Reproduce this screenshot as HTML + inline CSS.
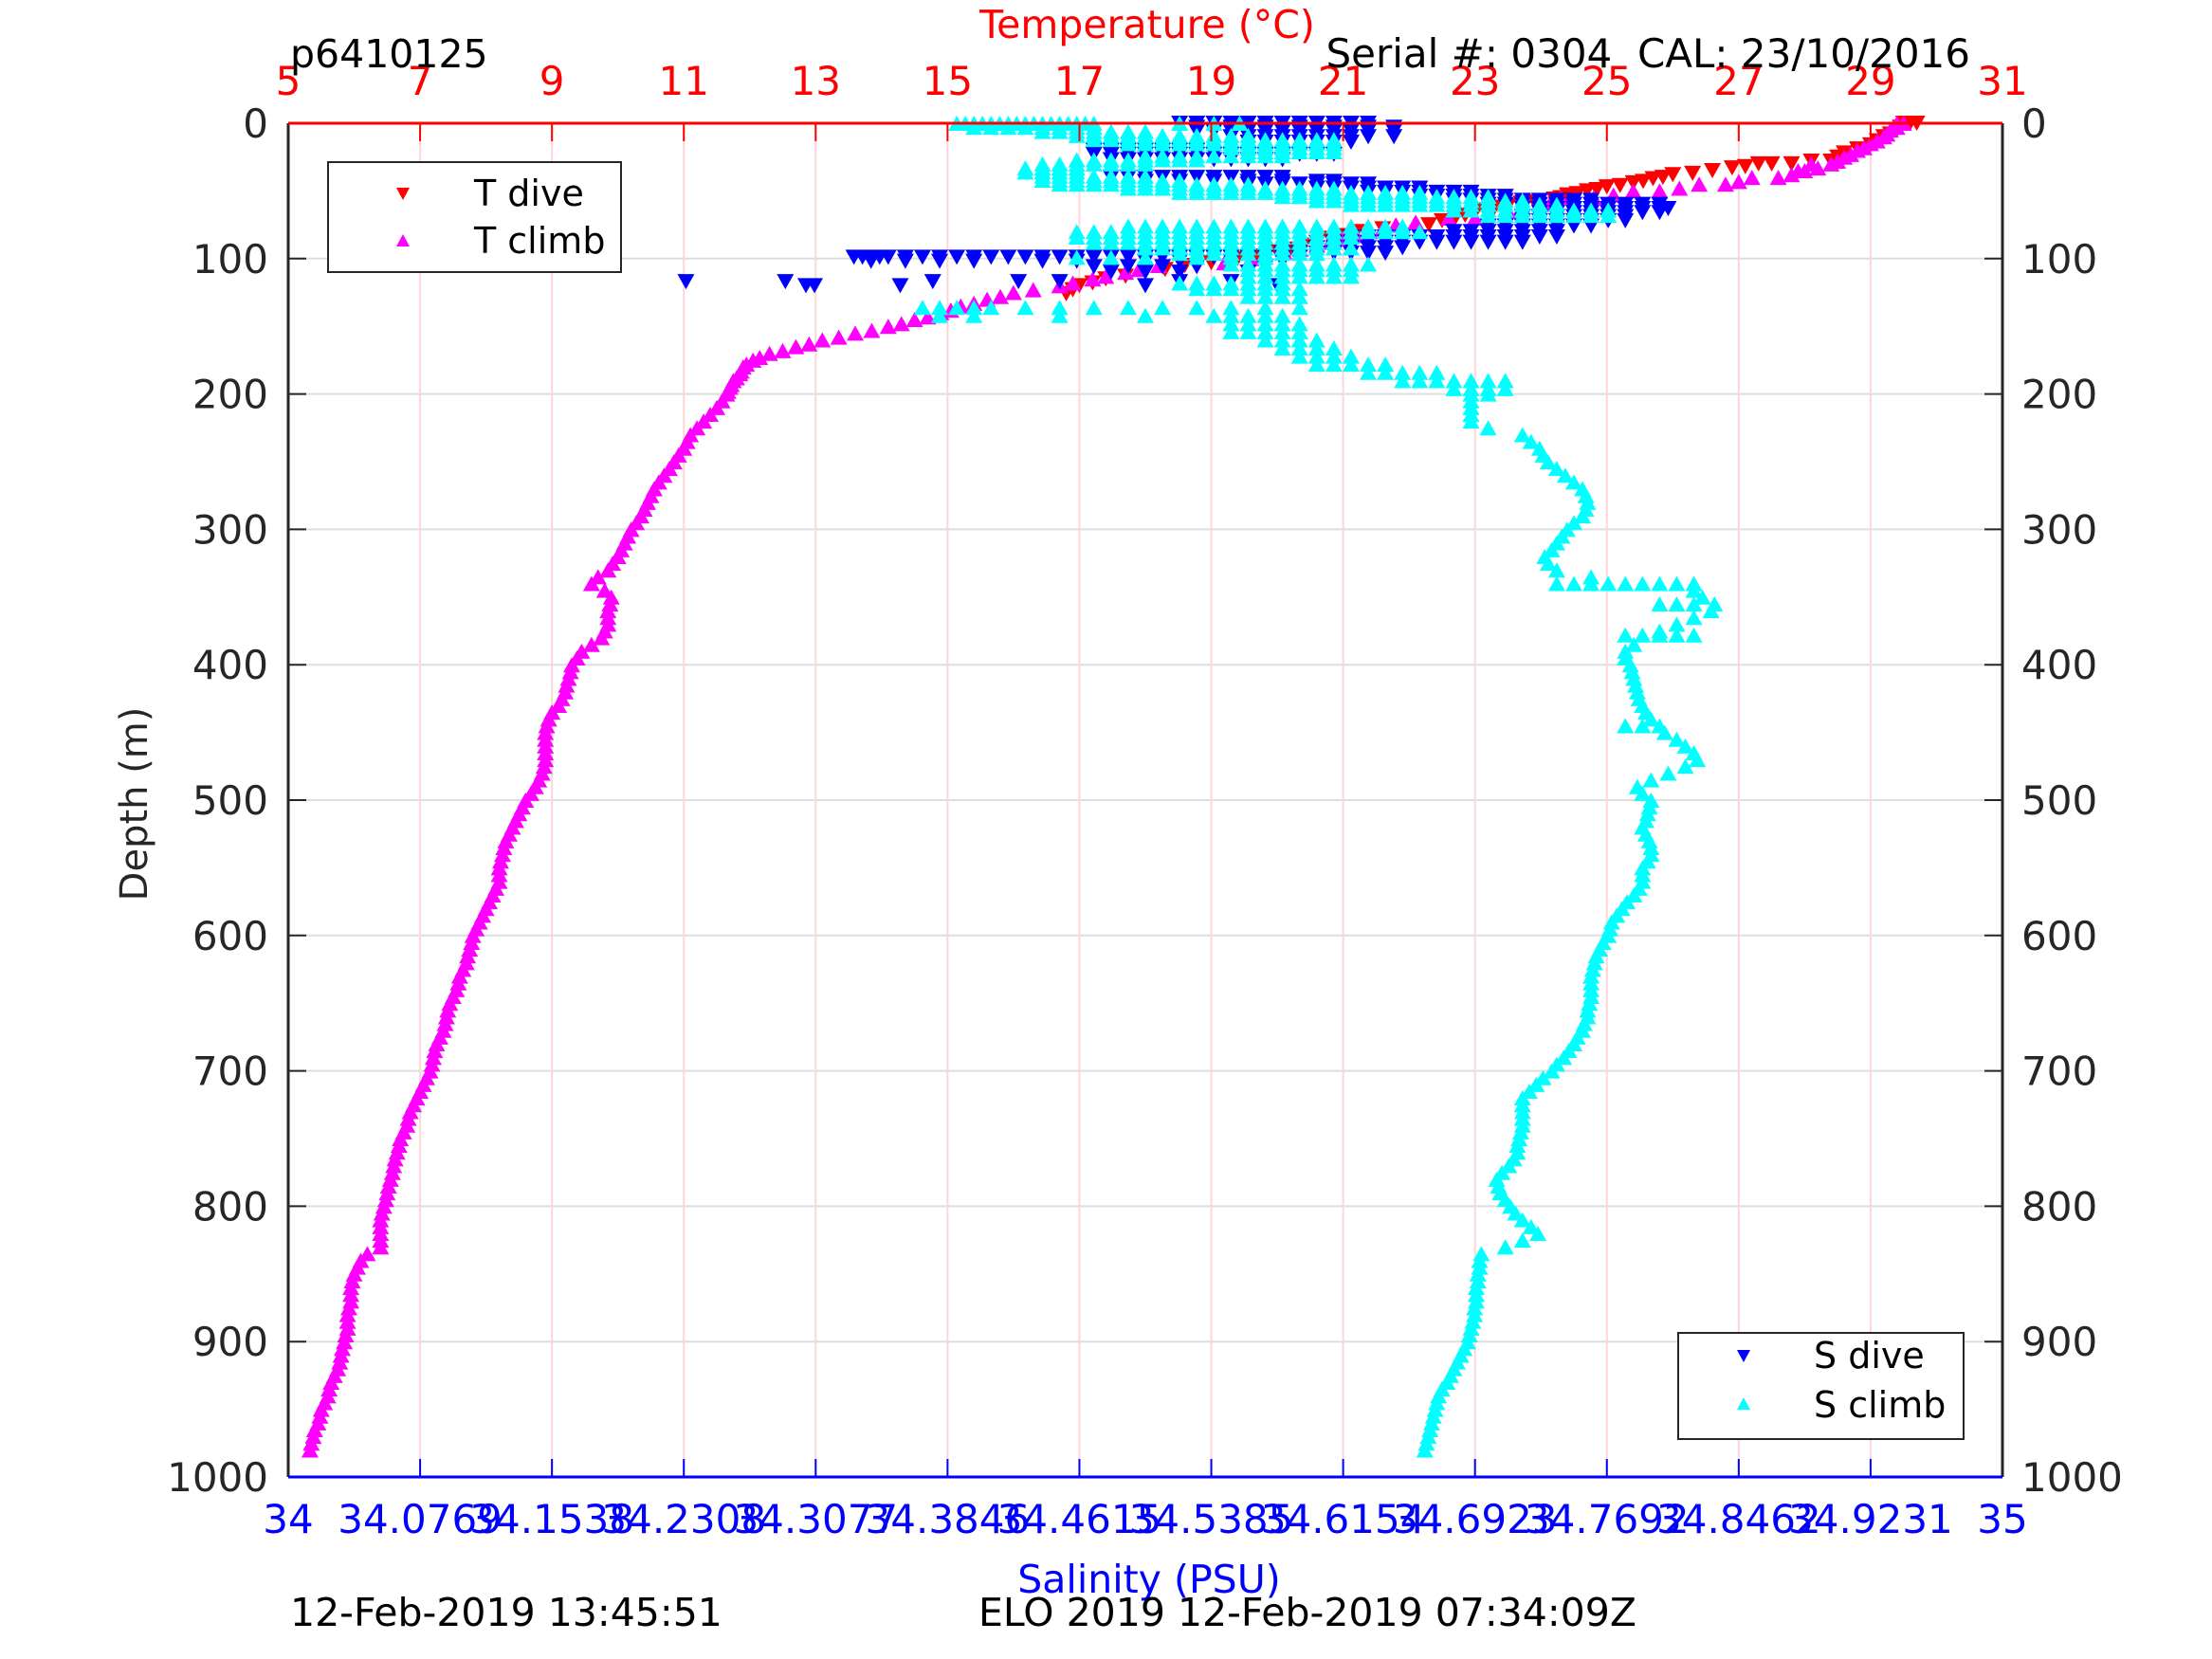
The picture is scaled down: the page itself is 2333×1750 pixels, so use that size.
<!DOCTYPE html>
<html><head><meta charset="utf-8"><style>
html,body{margin:0;padding:0;background:#fff;}
svg{display:block;font-family:"DejaVu Sans","Liberation Sans",sans-serif;}
</style></head><body>
<svg id="chart" width="2333" height="1750" viewBox="0 0 2333 1750" xmlns="http://www.w3.org/2000/svg">
<rect x="0" y="0" width="2333" height="1750" fill="#fff"/>
<g id="grid"></g>
<g id="marks"></g>
<g id="axes"></g>
<text x="1210" y="40" text-anchor="middle" font-size="41" fill="#ff0000">Temperature (°C)</text>
<text x="306" y="71" font-size="41" fill="#000">p6410125</text>
<text x="2078" y="71" text-anchor="end" font-size="42" fill="#000" xml:space="preserve" style="white-space:pre">Serial #: 0304  CAL: 23/10/2016</text>
<text x="1212" y="1680" text-anchor="middle" font-size="41" fill="#0000ff">Salinity (PSU)</text>
<text transform="translate(155,848) rotate(-90)" text-anchor="middle" font-size="40" fill="#262626">Depth (m)</text>
<text x="306" y="1715" font-size="41" fill="#000">12-Feb-2019 13:45:51</text>
<text x="1032" y="1715" font-size="41" fill="#000">ELO 2019 12-Feb-2019 07:34:09Z</text>
<g>
<rect x="346" y="171" width="309" height="116" fill="#fff" stroke="#262626" stroke-width="2"/>
<path d="M418,198 L432,198 L425,211 Z" fill="#ff0000"/>
<text x="500" y="217" font-size="38" fill="#000">T dive</text>
<path d="M418,260 L432,260 L425,247 Z" fill="#ff00ff"/>
<text x="500" y="267" font-size="38" fill="#000">T climb</text>
</g>
<g>
<rect x="1770" y="1406" width="301" height="112" fill="#fff" stroke="#262626" stroke-width="2"/>
<path d="M1832,1424 L1846,1424 L1839,1437 Z" fill="#0000ff"/>
<text x="1913" y="1443" font-size="38" fill="#000">S dive</text>
<path d="M1832,1487 L1846,1487 L1839,1474 Z" fill="#00ffff"/>
<text x="1913" y="1495" font-size="38" fill="#000">S climb</text>
</g>
</svg>
<script>
const depthTicks = [0,100,200,300,400,500,600,700,800,900,1000];
const tempTicks = [5,7,9,11,13,15,17,19,21,23,25,27,29,31];
const salTickLabels = ["34","34.0769","34.1538","34.2308","34.3077","34.3846","34.4615","34.5385","34.6154","34.6923","34.7692","34.8462","34.9231","35"];
const tDiveRows = [[0,29.7,29.5,29.6],[3,29.45],[5,29.4],[8,29.3],[10,29.2],[13,29.1],[16,29.0],[19,28.8],[22,28.6],[25,28.5],[28,28.4,28.1],[30,27.8,27.5,27.3],[32,27.1],[33,26.9],[35,26.6],[37,26.3],[38,26.0],[40,25.85],[41,25.7],[43,25.55],[44,25.4],[46,25.2],[47,25.0],[49,24.85],[50,24.7],[52,24.55],[53,24.4],[55,24.3],[56,24.2],[58,23.9],[59,23.7],[61,23.5],[62,23.3],[64,23.15],[66,23.0],[68,22.85],[70,22.7],[72,22.5],[75,22.3],[78,21.6],[80,21.2],[83,21.0],[85,20.8],[88,20.6],[90,20.4],[93,20.2],[95,20.0],[98,19.7],[100,19.4],[103,19.0],[105,18.6],[108,18.3],[110,18.0],[113,17.7],[115,17.4],[118,17.2],[120,17.0],[123,16.9],[126,16.8]];
const tClimbRows = [[0,29.5,29.4],[3,29.4],[5,29.3],[8,29.25],[10,29.2],[13,29.1],[15,29.0],[18,28.9],[20,28.8],[23,28.7],[25,28.6],[28,28.5],[30,28.4,28.1],[33,28.2],[35,28.0,27.9],[38,27.8],[40,27.6,27.2],[43,27.0],[45,26.8,26.4],[48,26.1],[50,25.8,25.4],[53,25.1],[55,24.8,24.3],[58,24.15],[60,24.0],[63,23.7],[65,23.5],[68,23.2],[70,23.0,22.6],[73,22.1],[75,21.8],[78,21.6],[80,21.4],[83,21.2],[85,21.0],[88,20.8],[90,20.6],[93,20.35],[95,20.1],[98,19.8],[100,19.6],[103,19.2],[105,18.2],[108,17.9],[110,17.7],[113,17.4],[115,17.2],[118,16.9],[120,16.7],[123,16.3],[125,16.0],[128,15.8],[130,15.6],[133,15.4],[135,15.2],[138,15.05],[140,14.9],[143,14.7],[145,14.5],[148,14.3],[150,14.1],[153,13.85],[155,13.6],[158,13.35],[160,13.1],[163,12.9],[165,12.7],[168,12.5],[170,12.3],[173,12.15],[175,12.05],[178,11.95],[180,11.9],[183,11.87],[185,11.85],[188,11.8],[190,11.75],[193,11.72],[195,11.7],[198,11.67],[200,11.65],[205,11.58],[210,11.5],[215,11.4],[220,11.3],[225,11.2],[230,11.1],[235,11.05],[240,11.0],[245,10.92],[250,10.85],[255,10.78],[260,10.7],[265,10.62],[270,10.55],[275,10.5],[280,10.45],[285,10.4],[290,10.35],[295,10.28],[300,10.2],[305,10.15],[310,10.1],[315,10.05],[320,10.0],[325,9.92],[330,9.85],[335,9.7],[340,9.6],[345,9.8],[350,9.9],[355,9.88],[360,9.85],[365,9.85],[370,9.85],[375,9.8],[380,9.75],[385,9.6],[390,9.45],[395,9.38],[400,9.3],[405,9.28],[410,9.25],[415,9.22],[420,9.2],[425,9.15],[430,9.1],[435,9.0],[440,8.95],[445,8.92],[450,8.9],[455,8.9],[460,8.9],[465,8.9],[470,8.9],[475,8.88],[480,8.85],[485,8.8],[490,8.75],[495,8.68],[500,8.6],[505,8.55],[510,8.5],[515,8.45],[520,8.4],[525,8.35],[530,8.3],[535,8.27],[540,8.25],[545,8.22],[550,8.2],[555,8.2],[560,8.2],[565,8.15],[570,8.1],[575,8.05],[580,8.0],[585,7.95],[590,7.9],[595,7.85],[600,7.8],[605,7.78],[610,7.75],[615,7.72],[620,7.7],[625,7.65],[630,7.6],[635,7.58],[640,7.55],[645,7.5],[650,7.45],[655,7.42],[660,7.4],[665,7.38],[670,7.35],[675,7.3],[680,7.25],[685,7.22],[690,7.2],[695,7.18],[700,7.15],[705,7.1],[710,7.05],[715,7.0],[720,6.95],[725,6.9],[730,6.85],[735,6.82],[740,6.8],[745,6.75],[750,6.7],[755,6.68],[760,6.65],[765,6.62],[770,6.6],[775,6.58],[780,6.55],[785,6.52],[790,6.5],[795,6.48],[800,6.45],[805,6.42],[810,6.4],[815,6.4],[820,6.4],[825,6.4],[830,6.4],[835,6.2],[840,6.1],[845,6.05],[850,6.0],[855,5.97],[860,5.95],[865,5.95],[870,5.95],[875,5.92],[880,5.9],[885,5.9],[890,5.9],[895,5.87],[900,5.85],[905,5.82],[910,5.8],[915,5.78],[920,5.75],[925,5.7],[930,5.65],[935,5.62],[940,5.6],[945,5.55],[950,5.5],[955,5.48],[960,5.45],[965,5.4],[970,5.38],[975,5.35],[980,5.33]];
const sDiveRows = [[0,34.52,34.53,34.54,34.55,34.56,34.57,34.58,34.59,34.60,34.61,34.62,34.63],[3,34.53,34.55,34.57,34.59,34.61,34.63,34.645],[6,34.53,34.54,34.55,34.56,34.57,34.58,34.59,34.60,34.61,34.62,34.63,34.645],[10,34.55,34.56,34.57,34.58,34.59,34.60,34.61,34.62,34.63,34.645],[14,34.56,34.57,34.58,34.59,34.60,34.61,34.62],[20,34.47,34.48,34.49,34.50,34.51,34.52,34.53],[23,34.47,34.48,34.49,34.50,34.51,34.52,34.53,34.54,34.55,34.56,34.57,34.58,34.59,34.60,34.61],[27,34.48,34.49,34.50,34.51,34.52,34.53,34.54,34.55,34.56,34.57,34.58],[40,34.48,34.49,34.50,34.51,34.52,34.53,34.54,34.55,34.56,34.57,34.58],[43,34.50,34.52,34.54,34.56,34.58,34.60,34.61],[45,34.56,34.57,34.58,34.59,34.60,34.61,34.62,34.63],[48,34.60,34.61,34.62,34.63,34.64,34.65,34.66],[51,34.63,34.64,34.65,34.66,34.67,34.68,34.69],[54,34.66,34.67,34.68,34.69,34.70,34.71],[57,34.68,34.69,34.70,34.71,34.72,34.73,34.74,34.75,34.76],[60,34.70,34.71,34.72,34.73,34.74,34.75,34.76,34.77,34.78,34.79,34.80],[63,34.72,34.73,34.74,34.75,34.76,34.77,34.78,34.79,34.80,34.805],[66,34.73,34.74,34.75,34.76,34.77,34.78,34.79,34.80],[69,34.72,34.73,34.74,34.75,34.76,34.77,34.78],[72,34.72,34.73,34.74,34.75,34.76,34.77,34.78],[76,34.70,34.71,34.72,34.73,34.74,34.75,34.76],[80,34.68,34.69,34.70,34.71,34.72,34.73,34.74],[84,34.62,34.63,34.64,34.65,34.66,34.67,34.68,34.69,34.70,34.71,34.72,34.73,34.74],[88,34.61,34.62,34.63,34.64,34.65,34.66,34.67,34.68,34.69,34.70,34.71,34.72],[92,34.60,34.61,34.62,34.63,34.64,34.65],[96,34.58,34.59,34.60,34.61,34.62,34.63,34.64],[99,34.33,34.335,34.34,34.345,34.35,34.36,34.37,34.38,34.39,34.40,34.41,34.42,34.43,34.44,34.45,34.46,34.47,34.48,34.49,34.50,34.51,34.52,34.53,34.54,34.55,34.56,34.57,34.58,34.59],[102,34.34,34.36,34.38,34.40,34.44,34.46,34.50,34.52,34.55,34.58],[106,34.47,34.49,34.51,34.53,34.57],[110,34.48,34.50,34.52,34.56],[117,34.232,34.29,34.376,34.426,34.45,34.52,34.55],[120,34.302,34.307,34.357,34.50,34.577]];
const sClimbRows = [[0,34.39,34.395,34.40,34.405,34.41,34.415,34.42,34.425,34.43,34.435,34.44,34.445,34.45,34.455,34.46,34.465,34.47,34.52,34.54,34.555],[3,34.40,34.41,34.42,34.43,34.44,34.45,34.46,34.47],[6,34.44,34.45,34.46,34.47,34.48,34.49,34.50],[9,34.46,34.47,34.48,34.49,34.50,34.51,34.52,34.53,34.54,34.55,34.56],[12,34.47,34.48,34.49,34.50,34.51,34.52,34.53,34.54,34.55,34.56,34.57,34.58,34.59,34.60,34.61],[15,34.49,34.50,34.51,34.52,34.53,34.54,34.55,34.56,34.57,34.58,34.59,34.60,34.61],[18,34.55,34.56,34.57,34.58,34.59,34.60,34.61],[21,34.56,34.57,34.58,34.59,34.60,34.61],[24,34.50,34.51,34.52,34.53,34.54,34.55,34.56,34.57,34.58],[27,34.46,34.47,34.48,34.49,34.50,34.51,34.52,34.53],[30,34.44,34.45,34.46,34.47,34.48,34.49,34.50],[33,34.43,34.44,34.45,34.46],[36,34.43,34.44,34.45,34.46],[39,34.44,34.45,34.46,34.47,34.48,34.49,34.50],[42,34.44,34.45,34.46,34.47,34.48,34.49,34.50,34.51,34.52],[45,34.45,34.46,34.47,34.48,34.49,34.50,34.51,34.52,34.53,34.54,34.55,34.56],[48,34.49,34.50,34.51,34.52,34.53,34.54,34.55,34.56,34.57,34.58,34.59,34.60,34.61],[51,34.52,34.53,34.54,34.55,34.56,34.57,34.58,34.59,34.60,34.61,34.62,34.63,34.64,34.65,34.66],[54,34.58,34.59,34.60,34.61,34.62,34.63,34.64,34.65,34.66,34.67,34.68,34.69,34.70],[57,34.60,34.61,34.62,34.63,34.64,34.65,34.66,34.67,34.68,34.69,34.70,34.71,34.72],[60,34.62,34.63,34.64,34.65,34.66,34.67,34.68,34.69,34.70,34.71,34.72,34.73,34.74],[64,34.68,34.69,34.70,34.71,34.72,34.73,34.74,34.75,34.76,34.77],[68,34.70,34.71,34.72,34.73,34.74,34.75,34.76,34.77],[76,34.49,34.50,34.51,34.52,34.53,34.54,34.55,34.56,34.57,34.58,34.59,34.60,34.61,34.62,34.63,34.64,34.65],[80,34.46,34.47,34.48,34.49,34.50,34.51,34.52,34.53,34.54,34.55,34.56,34.57,34.58,34.59,34.60,34.61,34.62,34.63,34.64,34.65,34.66],[84,34.46,34.47,34.48,34.49,34.50,34.51,34.52,34.53,34.54,34.55,34.56,34.57,34.58,34.59,34.60,34.61,34.62],[88,34.47,34.48,34.49,34.50,34.51,34.52,34.53,34.54,34.55,34.56,34.57,34.58,34.59,34.60,34.61],[92,34.50,34.51,34.52,34.53,34.54,34.55,34.56,34.57,34.58,34.59,34.60,34.61,34.62],[96,34.52,34.53,34.54,34.55,34.56,34.57,34.58,34.59,34.60],[99,34.46,34.48,34.50,34.53,34.55,34.57],[104,34.55,34.56,34.57,34.58,34.59,34.60,34.61,34.62,34.63],[108,34.56,34.57,34.58,34.59,34.60,34.61,34.62],[113,34.56,34.57,34.58,34.59,34.60,34.61,34.62],[118,34.52,34.53,34.54,34.55,34.56,34.57,34.58],[122,34.53,34.54,34.55,34.56,34.57,34.58,34.59],[128,34.56,34.57,34.58,34.59],[136,34.37,34.38,34.39,34.40,34.41,34.43,34.45,34.47,34.49,34.51,34.53,34.55,34.57,34.59],[142,34.38,34.40,34.45,34.50,34.54,34.55,34.56,34.57,34.58],[148,34.55,34.56,34.57,34.58,34.59],[154,34.55,34.56,34.57,34.58,34.59],[160,34.57,34.58,34.59,34.60],[166,34.58,34.59,34.60,34.61],[172,34.59,34.60,34.61,34.62],[178,34.60,34.61,34.62,34.63,34.64],[184,34.63,34.64,34.65,34.66,34.67],[190,34.65,34.66,34.67,34.68,34.69,34.70,34.71],[196,34.68,34.69,34.70,34.71],[200,34.69,34.70],[205,34.69],[210,34.69],[215,34.69],[220,34.69],[225,34.70],[230,34.72],[235,34.725],[240,34.73],[245,34.732],[250,34.735],[255,34.74],[260,34.745],[265,34.75],[270,34.755],[275,34.757],[280,34.758],[285,34.757],[290,34.755],[295,34.75],[300,34.746],[305,34.743],[310,34.74],[315,34.737],[320,34.733],[325,34.735],[330,34.74],[335,34.76],[340,34.74,34.75,34.76,34.77,34.78,34.79,34.80,34.81,34.82],[345,34.82],[350,34.825],[355,34.80,34.81,34.82,34.832],[360,34.83],[365,34.82],[370,34.81],[375,34.80],[378,34.78,34.79,34.80,34.81,34.82],[385,34.785],[390,34.78],[395,34.78],[400,34.783],[405,34.784],[410,34.785],[415,34.786],[420,34.787],[425,34.788],[430,34.79],[435,34.792],[440,34.795],[445,34.78,34.79,34.80],[450,34.803],[455,34.81],[460,34.815],[465,34.82],[470,34.822],[475,34.815],[480,34.805],[485,34.795],[490,34.787],[495,34.79],[500,34.795],[505,34.794],[510,34.793],[515,34.792],[520,34.79],[525,34.792],[530,34.794],[535,34.795],[540,34.795],[545,34.793],[550,34.79],[555,34.79],[560,34.79],[565,34.788],[570,34.785],[575,34.781],[580,34.778],[585,34.775],[590,34.772],[595,34.771],[600,34.77],[605,34.767],[610,34.765],[615,34.763],[620,34.762],[625,34.761],[630,34.76],[635,34.76],[640,34.76],[645,34.76],[650,34.759],[655,34.758],[660,34.758],[665,34.756],[670,34.755],[675,34.752],[680,34.75],[685,34.747],[690,34.744],[695,34.74],[700,34.737],[705,34.732],[710,34.728],[715,34.724],[720,34.72],[725,34.72],[730,34.72],[735,34.72],[740,34.72],[745,34.719],[750,34.718],[755,34.717],[760,34.717],[765,34.715],[770,34.712],[775,34.708],[780,34.705],[785,34.706],[790,34.707],[795,34.71],[800,34.713],[805,34.716],[810,34.72],[815,34.725],[820,34.729],[825,34.72],[830,34.71],[835,34.696],[840,34.695],[845,34.695],[850,34.694],[855,34.694],[860,34.693],[865,34.693],[870,34.693],[875,34.692],[880,34.692],[885,34.691],[890,34.69],[895,34.689],[900,34.688],[905,34.686],[910,34.684],[915,34.682],[920,34.68],[925,34.678],[930,34.676],[935,34.673],[940,34.671],[945,34.67],[950,34.669],[955,34.668],[960,34.667],[965,34.666],[970,34.665],[975,34.664],[980,34.663]];

const NS = "http://www.w3.org/2000/svg";
const X0 = 304, X1 = 2112, Y0 = 130, Y1 = 1558;
function yScale(d){ return Y0 + (d - 0) / 1000 * (Y1 - Y0); }
function xTemp(t){ return X0 + (t - 5) / 26 * (X1 - X0); }
function xSal(s){ return X0 + (s - 34) / 1 * (X1 - X0); }
function mk(tag, attrs, parent){ const e = document.createElementNS(NS, tag); for (const k in attrs) e.setAttribute(k, attrs[k]); parent.appendChild(e); return e; }

const grid = document.getElementById('grid');
const axes = document.getElementById('axes');
const marks = document.getElementById('marks');

depthTicks.forEach(function(d){
  const y = yScale(d);
  if (d > 0 && d < 1000) {
    const g = mk('line', {x1:X0, x2:X1, y1:y, y2:y, stroke:'#dedede', 'stroke-width':2}, grid);
    
    
  }
  const tl = mk('line', {x1:X0, x2:X0+19, y1:y, y2:y, stroke:'#262626', 'stroke-width':2}, axes);
  
  
  const tr = mk('line', {x1:X1-19, x2:X1, y1:y, y2:y, stroke:'#262626', 'stroke-width':2}, axes);
  
  
  const lb = mk('text', {x:283, y:y+15, 'text-anchor':'end', 'font-size':42, fill:'#262626'}, axes);
  lb.textContent = d;
  
  
  const rb = mk('text', {x:2132, y:y+15, 'text-anchor':'start', 'font-size':42, fill:'#262626'}, axes);
  rb.textContent = d;
  
  
});

tempTicks.forEach(function(t, i){
  const x = xTemp(t);
  if (i > 0 && i < tempTicks.length - 1) {
    const g = mk('line', {x1:x, x2:x, y1:Y0, y2:Y1, stroke:'#ffd6d6', 'stroke-width':2}, grid);
    
    
  }
  const tt = mk('line', {x1:x, x2:x, y1:Y0, y2:Y0+19, stroke:'#ff0000', 'stroke-width':2}, axes);
  
  
  const tb = mk('line', {x1:x, x2:x, y1:Y1-19, y2:Y1, stroke:'#0000ff', 'stroke-width':2}, axes);
  
  
  const lt = mk('text', {x:x, y:100, 'text-anchor':'middle', 'font-size':42, fill:'#ff0000'}, axes);
  lt.textContent = t;
  
  
  const ls = mk('text', {x:x, y:1617, 'text-anchor':'middle', 'font-size':42, fill:'#0000ff'}, axes);
  ls.textContent = salTickLabels[i];
  
  
});

const axL = mk('line', {x1:X0, x2:X0, y1:Y0, y2:Y1, stroke:'#262626', 'stroke-width':3}, axes);


const axR = mk('line', {x1:X1, x2:X1, y1:Y0, y2:Y1, stroke:'#262626', 'stroke-width':3}, axes);


const axT = mk('line', {x1:X0, x2:X1, y1:Y0, y2:Y0, stroke:'#ff0000', 'stroke-width':3}, axes);


const axB = mk('line', {x1:X0, x2:X1, y1:Y1, y2:Y1, stroke:'#0000ff', 'stroke-width':3}, axes);



const HW = 9, HH = 8;
function drawSeries(rows, xf, color, down, name){
  let d = '';
  rows.forEach(function(r){
    const y = yScale(r[0]);
    for (let k = 1; k < r.length; k++) {
      const x = xf(r[k]);
      if (down) d += 'M' + (x-HW) + ',' + (y-HH) + 'L' + (x+HW) + ',' + (y-HH) + 'L' + x + ',' + (y+HH) + 'Z';
      else d += 'M' + (x-HW) + ',' + (y+HH) + 'L' + (x+HW) + ',' + (y+HH) + 'L' + x + ',' + (y-HH) + 'Z';
    }
  });
  const p = mk('path', {d:d, fill:color}, marks);
  
  
}
drawSeries(tDiveRows, xTemp, '#ff0000', true, 't-dive-series');
drawSeries(tClimbRows, xTemp, '#ff00ff', false, 't-climb-series');
drawSeries(sDiveRows, xSal, '#0000ff', true, 's-dive-series');
drawSeries(sClimbRows, xSal, '#00ffff', false, 's-climb-series');
</script>
</body></html>
